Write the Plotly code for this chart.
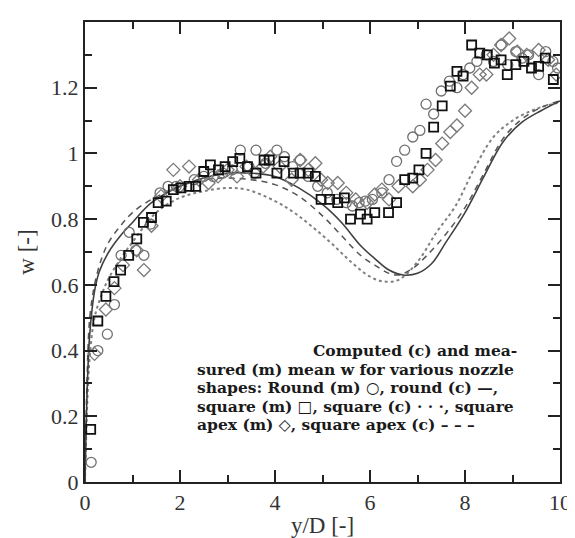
import plotly.graph_objects as go

# ---- measured data (y/D, w) ----
round_m_x = [0.13, 0.27, 0.47, 0.62, 0.76, 0.93, 1.07, 1.24, 1.38, 1.58, 1.75, 1.92, 2.3, 2.5, 2.7, 2.9, 3.1,
             3.27, 3.45, 3.6, 3.8, 4.04, 4.2, 4.37, 4.53, 4.7, 4.9, 5.1, 5.3, 5.5, 5.63, 5.77, 5.9, 6.05,
             6.25, 6.4, 6.56, 6.73, 6.9, 7.05, 7.18, 7.34, 7.5, 7.67, 7.83, 7.96, 8.1, 8.25, 8.45, 8.6,
             8.76, 8.9, 9.07, 9.2, 9.34, 9.55, 9.7, 9.85, 9.95]
round_m_y = [0.06, 0.40, 0.45, 0.54, 0.69, 0.76, 0.705, 0.69, 0.785, 0.88, 0.90, 0.90, 0.92, 0.93, 0.93, 0.94, 0.95,
             1.01, 0.96, 1.01, 0.97, 1.01, 0.99, 0.96, 0.98, 0.93, 0.90, 0.88, 0.86, 0.85, 0.84, 0.85, 0.855, 0.86,
             0.88, 0.92, 0.976, 1.01, 1.05, 1.07, 1.15, 1.12, 1.19, 1.22, 1.20, 1.24, 1.26, 1.28, 1.30, 1.28,
             1.33, 1.27, 1.31, 1.29, 1.30, 1.24, 1.31, 1.28, 1.26]

square_m_x = [0.12, 0.27, 0.44, 0.61, 0.75, 0.92, 1.09, 1.23, 1.40, 1.54, 1.71, 1.86, 2.02, 2.19, 2.33, 2.5,
              2.64, 2.81, 2.95, 3.11, 3.26, 3.42, 3.6, 3.77, 3.88, 4.04, 4.19, 4.39, 4.53, 4.7, 4.85, 4.97,
              5.15, 5.32, 5.46, 5.59, 5.8, 5.94, 6.1, 6.39, 6.56, 6.73, 6.9, 7.03, 7.18, 7.34, 7.52, 7.69,
              7.83, 7.96, 8.14, 8.31, 8.47, 8.62, 8.76, 8.89, 9.07, 9.24, 9.4, 9.55, 9.69, 9.86]
square_m_y = [0.16, 0.49, 0.565, 0.61, 0.645, 0.69, 0.74, 0.79, 0.805, 0.85, 0.855, 0.89, 0.895, 0.90, 0.90, 0.945,
              0.965, 0.95, 0.96, 0.975, 0.985, 0.96, 0.94, 0.98, 0.98, 0.94, 0.975, 0.94, 0.94, 0.94, 0.93, 0.86,
              0.86, 0.85, 0.865, 0.80, 0.815, 0.80, 0.82, 0.82, 0.85, 0.92, 0.925, 0.95, 1.0, 1.08, 1.145, 1.205,
              1.25, 1.235, 1.33, 1.305, 1.30, 1.275, 1.285, 1.24, 1.27, 1.28, 1.26, 1.265, 1.29, 1.225]

apex_m_x = [0.2, 0.44, 0.62, 0.8, 1.09, 1.24, 1.4, 1.6, 1.86, 2.0, 2.19, 2.4, 2.6, 2.8, 3.0, 3.2, 3.4, 3.57,
            3.75, 3.9, 4.1, 4.35, 4.53, 4.7, 4.85, 4.97, 5.11, 5.32, 5.5, 5.7, 5.94, 6.1, 6.25, 6.4, 6.6,
            6.9, 7.05, 7.21, 7.38, 7.52, 7.69, 7.83, 8.0, 8.14, 8.31, 8.45, 8.6, 8.76, 8.93, 9.1, 9.3,
            9.55, 9.75, 9.92]
apex_m_y = [0.39, 0.525, 0.59, 0.66, 0.705, 0.645, 0.78, 0.87, 0.95, 0.90, 0.96, 0.92, 0.91, 0.93, 0.95, 0.93,
            0.96, 0.94, 0.96, 0.99, 0.96, 0.92, 0.98, 0.95, 0.97, 0.92, 0.91, 0.91, 0.88, 0.86, 0.85, 0.875,
            0.89, 0.86, 0.90, 0.90, 0.92, 0.95, 0.98, 1.03, 1.065, 1.085, 1.13, 1.20, 1.24, 1.24, 1.30, 1.33,
            1.35, 1.31, 1.30, 1.315, 1.285, 1.24]

# ---- computed curves ----
round_c_x = [0, 0.05, 0.1, 0.2, 0.3, 0.5, 0.75, 1.0, 1.4, 2.0, 2.5, 3.0, 3.5, 4.0, 4.5, 5.0, 5.4, 5.8,
             6.1, 6.4, 6.7, 7.0, 7.3, 7.6, 8.0, 8.4, 8.8, 9.2, 9.6, 10.0]
round_c_y = [0.0, 0.3, 0.45, 0.58, 0.64, 0.70, 0.75, 0.79, 0.85, 0.90, 0.925, 0.94, 0.94, 0.93, 0.895, 0.845,
             0.79, 0.72, 0.68, 0.645, 0.63, 0.635, 0.665, 0.73, 0.82, 0.93, 1.035, 1.095, 1.13, 1.16]

apex_c_x = [0, 0.05, 0.1, 0.2, 0.35, 0.5, 0.75, 1.0, 1.4, 2.0, 2.5, 3.0, 3.5, 4.0, 4.5, 5.0, 5.4, 5.8,
            6.1, 6.4, 6.6, 6.9, 7.2, 7.6, 8.0, 8.4, 8.8, 9.2, 9.6, 10.0]
apex_c_y = [0.0, 0.35, 0.5, 0.6, 0.68, 0.73, 0.78, 0.82, 0.86, 0.90, 0.92, 0.925, 0.92, 0.905, 0.87, 0.81,
            0.75, 0.69, 0.66, 0.635, 0.63, 0.65, 0.69, 0.755, 0.835, 0.94, 1.045, 1.105, 1.14, 1.16]

square_c_x = [0, 0.05, 0.1, 0.2, 0.35, 0.5, 0.75, 1.0, 1.5, 2.0, 2.5, 3.0, 3.4, 4.0, 4.4, 4.8, 5.2, 5.6,
              6.0, 6.3, 6.6, 7.0, 7.4, 7.8, 8.2, 8.6, 9.0, 9.4, 9.7, 10.0]
square_c_y = [0.0, 0.25, 0.38, 0.5, 0.57, 0.62, 0.68, 0.73, 0.82, 0.865, 0.885, 0.895, 0.89, 0.855, 0.82,
              0.775, 0.725, 0.67, 0.625, 0.61, 0.615, 0.67, 0.76, 0.84, 0.955, 1.05, 1.10, 1.13, 1.145, 1.155]

x_ticks = [0, 2, 4, 6, 8, 10]
x_ticklabels = ["0", "2", "4", "6", "8", "10"]
y_ticks = [0, 0.2, 0.4, 0.6, 0.8, 1.0, 1.2]
y_ticklabels = ["0", "0.2", "0.4", "0.6", "0.8", "1", "1.2"]

caption_lines = [
    "Computed (c) and mea-",
    "sured (m) mean w for various nozzle",
    "shapes: Round (m) ○, round (c) —,",
    "square (m) □, square (c) · · ·, square",
    "apex (m) ◇, square apex (c) – – –",
]

fig = go.Figure()

fig.add_trace(go.Scatter(x=square_c_x, y=square_c_y, mode="lines", line_shape="spline",
                         line=dict(color="#808080", width=2, dash="dot"), showlegend=False))
fig.add_trace(go.Scatter(x=apex_c_x, y=apex_c_y, mode="lines", line_shape="spline",
                         line=dict(color="#555555", width=1.5, dash="6px,5px"), showlegend=False))
fig.add_trace(go.Scatter(x=round_c_x, y=round_c_y, mode="lines", line_shape="spline",
                         line=dict(color="#404040", width=1.6), showlegend=False))

fig.add_trace(go.Scatter(x=round_m_x, y=round_m_y, mode="markers",
                         marker=dict(symbol="circle-open", size=10, color="#707070", line=dict(width=1.3)),
                         showlegend=False))
fig.add_trace(go.Scatter(x=apex_m_x, y=apex_m_y, mode="markers",
                         marker=dict(symbol="diamond-open", size=10, color="#7a7a7a", line=dict(width=1.3)),
                         showlegend=False))
fig.add_trace(go.Scatter(x=square_m_x, y=square_m_y, mode="markers",
                         marker=dict(symbol="square-open", size=9, color="#111111", line=dict(width=1.8)),
                         showlegend=False))

axis_common = dict(showgrid=False, zeroline=False, showline=True, linecolor="#222222", linewidth=2,
                   mirror="allticks", ticks="inside", ticklen=12, tickwidth=2, tickcolor="#222222",
                   tickfont=dict(family="Liberation Serif", size=22, color="#333333"))

fig.update_xaxes(range=[0, 10], tickvals=x_ticks, ticktext=x_ticklabels,
                 minor=dict(ticks="inside", ticklen=7, tickwidth=1.5, tickcolor="#222222", dtick=1, tick0=0),
                 title=dict(text="y/D [-]", font=dict(family="Liberation Serif", size=23, color="#333333"),
                            standoff=2),
                 **axis_common)
fig.update_yaxes(range=[0, 1.4], tickvals=y_ticks, ticktext=y_ticklabels,
                 minor=dict(ticks="inside", ticklen=7, tickwidth=1.5, tickcolor="#222222", dtick=0.1, tick0=0),
                 title=dict(text="w [-]", font=dict(family="Liberation Serif", size=23, color="#333333"),
                            standoff=10),
                 **axis_common)

# caption block positioned in paper coordinates
px_left, px_right = 77, 562
py_top, py_bot = 13, 487
def pxx(p):
    return (p - px_left) / (px_right - px_left)
def pyy(p):
    return (py_bot - p) / (py_bot - py_top)

line_centers = [352, 371, 390, 409, 428]
for i, (txt, cy) in enumerate(zip(caption_lines, line_centers)):
    if i == 0:
        fig.add_annotation(x=pxx(520), y=pyy(cy), xref="paper", yref="paper", text="<b>" + txt + "</b>",
                           showarrow=False, xanchor="right", yanchor="middle",
                           font=dict(family="DejaVu Serif", size=15.5, color="#1a1a1a"))
    else:
        fig.add_annotation(x=pxx(189), y=pyy(cy), xref="paper", yref="paper", text="<b>" + txt + "</b>",
                           showarrow=False, xanchor="left", yanchor="middle",
                           font=dict(family="DejaVu Serif", size=15.5, color="#1a1a1a"))

fig.update_layout(width=575, height=538, margin=dict(l=77, r=13, t=13, b=51),
                  plot_bgcolor="white", paper_bgcolor="white")

fig.write_html("out.html")
